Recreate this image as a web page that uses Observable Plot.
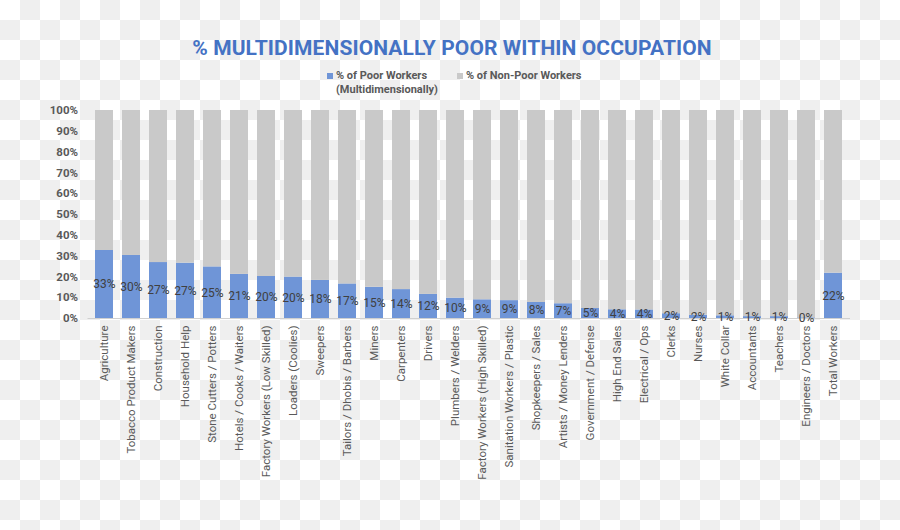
<!DOCTYPE html>
<html>
<head>
<meta charset="utf-8">
<script src="https://cdn.jsdelivr.net/npm/d3@7"></script>
<script src="https://cdn.jsdelivr.net/npm/@observablehq/plot@0.6"></script>
<style>
  html, body { margin: 0; padding: 0; }
  body {
    width: 900px; height: 530px; overflow: hidden;
    background-color: #fff;
    background-image: repeating-conic-gradient(#efefef 0 25%, #ffffff 0 50%);
    background-size: 40px 40px;
    font-family: Roboto, "Liberation Sans", sans-serif;
  }
  #wrap { position: relative; width: 900px; height: 530px; }
  #title {
    position: absolute; left: 0; width: 904px; top: 36px; text-align: center;
    color: #4472C4; font-weight: bold; font-size: 21px; letter-spacing: 0.1px;
  }
  .leg { position: absolute; font-size: 11px; font-weight: bold; color: #595959; line-height: 14px; }
  .sw { position: absolute; width: 6px; height: 6px; }
  #chart { position: absolute; left: 0; top: 100px; }
  #chart svg { background: transparent; overflow: visible; }
</style>
</head>
<body>
<div id="wrap">
  <div id="title">% MULTIDIMENSIONALLY POOR WITHIN OCCUPATION</div>
  <div class="sw" style="left:327px;top:73px;background:#6F95D7"></div>
  <div class="leg" style="left:336px;top:69px;">% of Poor Workers<br>(Multidimensionally)</div>
  <div class="sw" style="left:457px;top:73px;background:#C9C9C9"></div>
  <div class="leg" style="left:466px;top:69px;">% of Non-Poor Workers</div>
  <div id="chart"></div>
</div>
<script>
const categories = [
  "Agriculture", "Tobacco Product Makers", "Construction", "Household Help",
  "Stone Cutters / Potters", "Hotels / Cooks / Waiters", "Factory Workers (Low Skilled)",
  "Loaders (Coolies)", "Sweepers", "Tailors / Dhobis / Barbers", "Miners", "Carpenters",
  "Drivers", "Plumbers / Welders", "Factory Workers (High Skilled)",
  "Sanitation Workers / Plastic", "Shopkeepers / Sales", "Artists / Money Lenders",
  "Government / Defense", "High End Sales", "Electrical / Ops", "Clerks", "Nurses",
  "White Collar", "Accountants", "Teachers", "Engineers / Doctors", "Total Workers"
];
const poorPct = [
  32.7, 30.3, 26.9, 26.6, 24.8, 21.2, 20.2, 19.9, 18.3, 16.6, 15.0, 13.9,
  11.6, 9.8, 9.0, 8.6, 7.7, 7.1, 4.8, 4.2, 4.1, 2.3, 1.6, 1.3, 0.9, 0.9, 0.3, 21.8
];
const poorLabels = [
  "33%", "30%", "27%", "27%", "25%", "21%", "20%", "20%", "18%", "17%", "15%", "14%",
  "12%", "10%", "9%", "9%", "8%", "7%", "5%", "4%", "4%", "2%", "2%", "1%", "1%", "1%", "0%", "22%"
];
const groups = ["Poor", "Non-Poor"];
const yTicks = [0, 10, 20, 30, 40, 50, 60, 70, 80, 90, 100];

const table = categories.flatMap((c, i) => [
  {cat: c, group: "Poor", v: poorPct[i]},
  {cat: c, group: "Non-Poor", v: 100 - poorPct[i]}
]);
const labels = categories.map((c, i) => ({cat: c, v: poorPct[i], label: poorLabels[i]}));

const chart = Plot.plot({
  width: 900,
  height: 430,
  marginLeft: 87.5,
  marginRight: 50,
  marginTop: 10,
  marginBottom: 212,
  style: {fontFamily: "Roboto, sans-serif", background: "transparent"},
  x: {domain: categories, paddingInner: 0.34, paddingOuter: 0.17, axis: null},
  y: {domain: [0, 100], axis: null},
  color: {domain: groups, range: ["#6F95D7", "#C9C9C9"]},
  marks: [
    Plot.barY(table, {x: "cat", y: "v", fill: "group", order: groups}),
    Plot.ruleY([0], {stroke: "#D0D0D0", strokeWidth: 1}),
    Plot.text(labels, {x: "cat", y: d => d.v / 2, text: "label", fill: "#404040", fontSize: 12}),
    Plot.axisY({ticks: yTicks, tickFormat: d => d + "%", tickSize: 0, tickPadding: 10,
      fontSize: 11.5, fontWeight: "bold", fill: "#595959", label: null}),
    Plot.axisX({tickRotate: -90, tickSize: 0, tickPadding: 7, fontSize: 11.5,
      fill: "#595959", label: null})
  ]
});
document.getElementById("chart").appendChild(chart);
</script>
</body>
</html>
